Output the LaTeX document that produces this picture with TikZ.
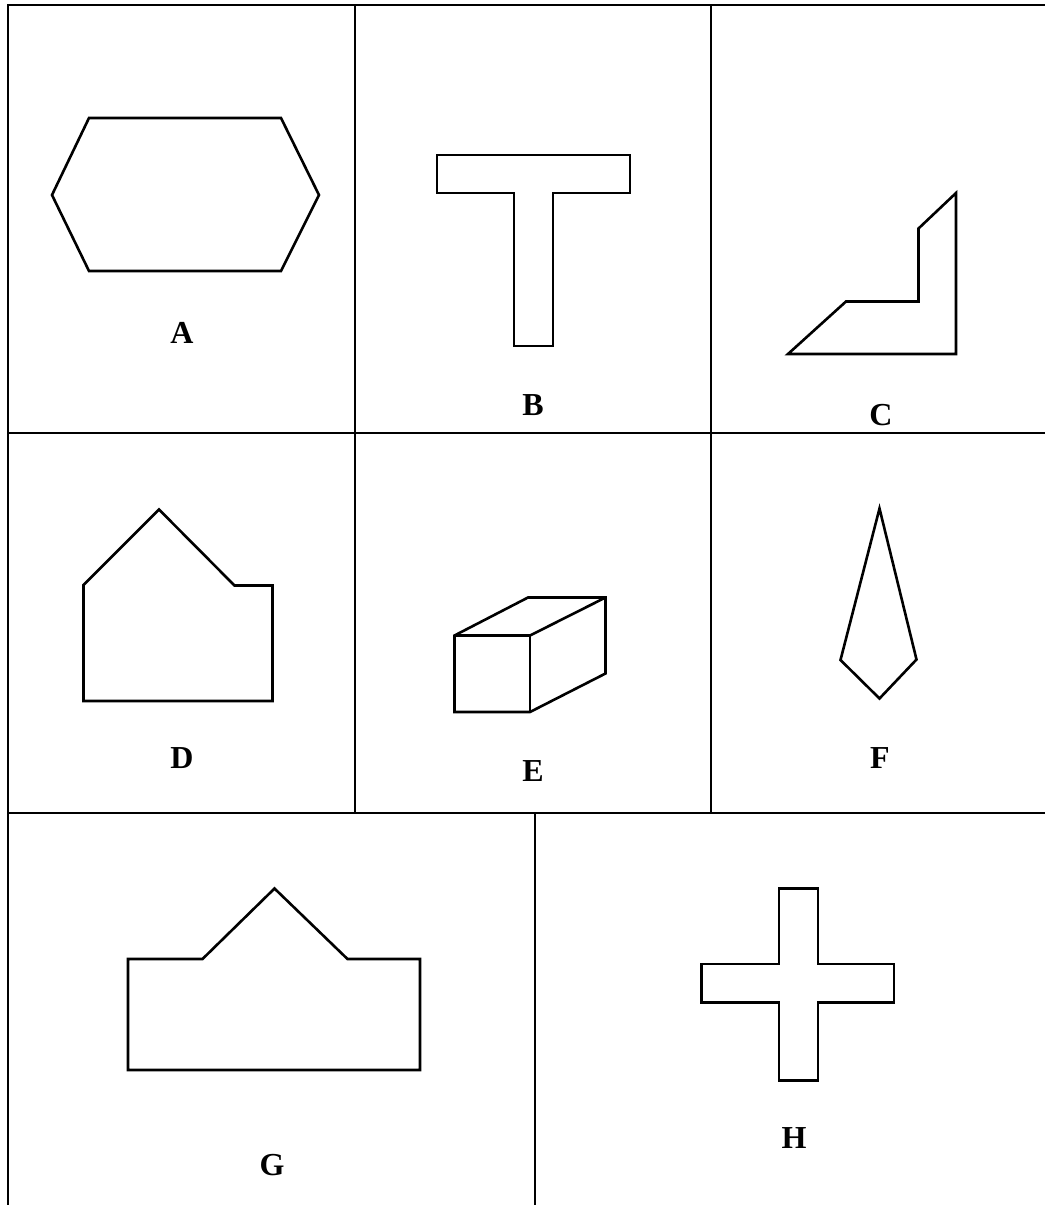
\documentclass[tikz,border=0pt]{standalone}
\usepackage{fontspec}
\setmainfont{Liberation Serif}
\begin{document}
\begin{tikzpicture}[x=1pt,y=-1pt,
  gridline/.style={line width=2pt,black},
  figline/.style={line width=2.6pt,black,line join=miter},
  lbl/.style={font=\fontsize{32}{32}\selectfont\bfseries,inner sep=0pt}]
\useasboundingbox[fill=white] (0,0) rectangle (1045,1205);
% table grid
\draw[gridline] (8,1205) -- (8,5) -- (1045,5);
\draw[gridline] (8,432.5) -- (1045,432.5);
\draw[gridline] (8,812.5) -- (1045,812.5);
\draw[gridline] (355,5) -- (355,812.5);
\draw[gridline] (710.5,5) -- (710.5,812.5);
\draw[gridline] (534.5,812.5) -- (534.5,1205);
% A hexagon
\draw[figline] (89,118) -- (281,118) -- (319,195) -- (281,271) -- (89,271) -- (52,195) -- cycle;
\node[lbl] (la) at (182,333) {A};
% B T-shape
\draw[figline] (437,155) -- (630,155) -- (630,193) -- (553,193) -- (553,346) -- (514,346) -- (514,193) -- (437,193) -- cycle;
\node[lbl] (lb) at (533,405) {B};
% C
\draw[figline] (788,354) -- (956,354) -- (956,193) -- (918.5,228.5) -- (918.5,301.5) -- (846,301.5) -- cycle;
\node[lbl] (lc) at (881,415) {C};
% D
\draw[figline] (159,509.5) -- (234.5,585.5) -- (272.5,585.5) -- (272.5,701) -- (83.5,701) -- (83.5,585) -- cycle;
\node[lbl] (ld) at (182,758) {D};
% E cuboid
\draw[figline] (454.5,635.5) -- (528,597.5) -- (605.5,597.5) -- (605.5,673.5) -- (530,712) -- (454.5,712) -- cycle;
\draw[figline] (454.5,635.5) -- (530,635.5) -- (530,712);
\draw[figline] (530,635.5) -- (605.5,597.5);
\node[lbl] (le) at (533,771) {E};
% F kite
\draw[figline] (879.5,508.5) -- (916.5,659.5) -- (879.5,698.5) -- (840.5,660) -- cycle;
\node[lbl] (lf) at (880,758) {F};
% G
\draw[figline] (128,959) -- (202.5,959) -- (274.5,888.5) -- (347.5,959) -- (420,959) -- (420,1070) -- (128,1070) -- cycle;
\node[lbl] (lg) at (272,1165) {G};
% H cross
\draw[figline] (779,888.5) -- (818,888.5) -- (818,964) -- (894,964) -- (894,1002.5) -- (818,1002.5) -- (818,1080.5) -- (779,1080.5) -- (779,1002.5) -- (701.5,1002.5) -- (701.5,964) -- (779,964) -- cycle;
\node[lbl] (lh) at (794,1138) {H};
\end{tikzpicture}
\end{document}
